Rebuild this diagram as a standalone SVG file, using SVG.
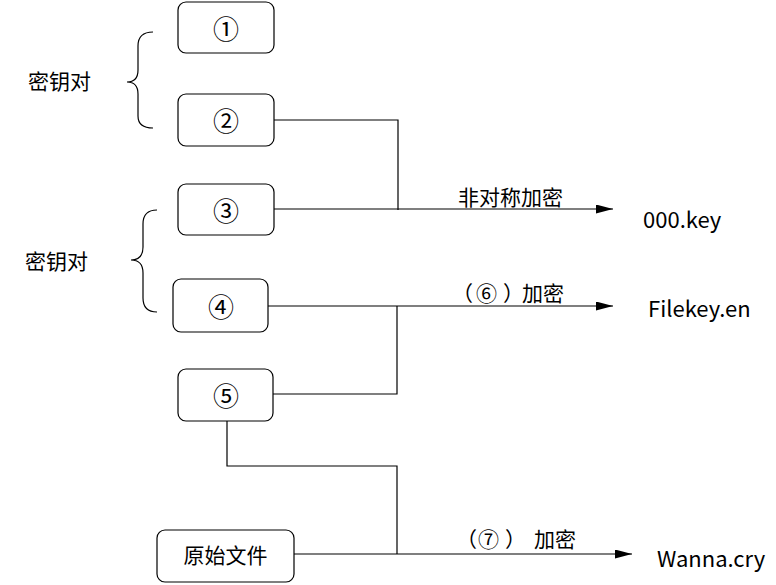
<svg xmlns="http://www.w3.org/2000/svg" width="776" height="585" viewBox="0 0 776 585">
<defs>
<style>
.box{fill:#fff;stroke:#000;stroke-width:1.2}
.ln{fill:none;stroke:#000;stroke-width:1.2}
text{font-family:"Noto Sans CJK SC","Noto Sans",sans-serif;fill:#000}
.num{font-size:26px;text-anchor:middle;dominant-baseline:central}
.lbl{font-size:21px;dominant-baseline:central}
.lat{font-size:22px;dominant-baseline:central}
</style>
<marker id="arr" viewBox="0 0 10 10" refX="10" refY="5" markerWidth="17" markerHeight="9" markerUnits="userSpaceOnUse" orient="auto" preserveAspectRatio="none">
<path d="M0,0 L10,5 L0,10 z" fill="#000"/>
</marker>
</defs>
<g id="connectors">
<path class="ln" d="M274,120 H398 V210"/>
<path class="ln" d="M274,209 H613" marker-end="url(#arr)"/>
<path class="ln" d="M268,306 H613" marker-end="url(#arr)"/>
<path class="ln" d="M273,394 H397 V306"/>
<path class="ln" d="M227,421 V466 H397 V554"/>
<path class="ln" d="M294,554 H632" marker-end="url(#arr)"/>
<path class="ln" d="M153,32 Q138,32 138,46 V70 Q138,82 127,82 Q138,82 138,94 V116 Q138,128 153,128"/>
<path class="ln" d="M157,210 Q143,210 143,224 V247 Q143,260 131,260 Q143,260 143,273 V298 Q143,312 157,312"/>
</g>
<g id="n1"><rect class="box" x="178" y="2" width="96" height="51" rx="8"/><text class="num" x="226" y="27">①</text></g>
<g id="n2"><rect class="box" x="178" y="94" width="96" height="52" rx="8"/><text class="num" x="226" y="119">②</text></g>
<g id="n3"><rect class="box" x="178" y="184" width="96" height="51" rx="8"/><text class="num" x="226" y="209">③</text></g>
<g id="n4"><rect class="box" x="173" y="279" width="95" height="53" rx="8"/><text class="num" x="221" y="305">④</text></g>
<g id="n5"><rect class="box" x="178" y="369" width="95" height="52" rx="8"/><text class="num" x="226" y="394">⑤</text></g>
<g id="n6"><rect class="box" x="157" y="530" width="137" height="52" rx="8"/><text class="lbl" x="225.5" y="554" text-anchor="middle">原始文件</text></g>
<g id="labels">
<text class="lbl" x="28" y="80">密钥对</text>
<text class="lbl" x="25" y="260">密钥对</text>
<text class="lbl" x="458" y="196">非对称加密</text>
<text class="lat" x="643" y="218">000.key</text>
<text class="lbl" y="292"><tspan x="452">（</tspan><tspan x="476">⑥</tspan><tspan x="503">）</tspan><tspan x="522">加密</tspan></text>
<text class="lat" x="648" y="307">Filekey.en</text>
<text class="lbl" y="538"><tspan x="456">（</tspan><tspan x="478">⑦</tspan><tspan x="505">）</tspan><tspan x="534">加密</tspan></text>
<text class="lat" x="657" y="557">Wanna.cry</text>
</g>
</svg>
